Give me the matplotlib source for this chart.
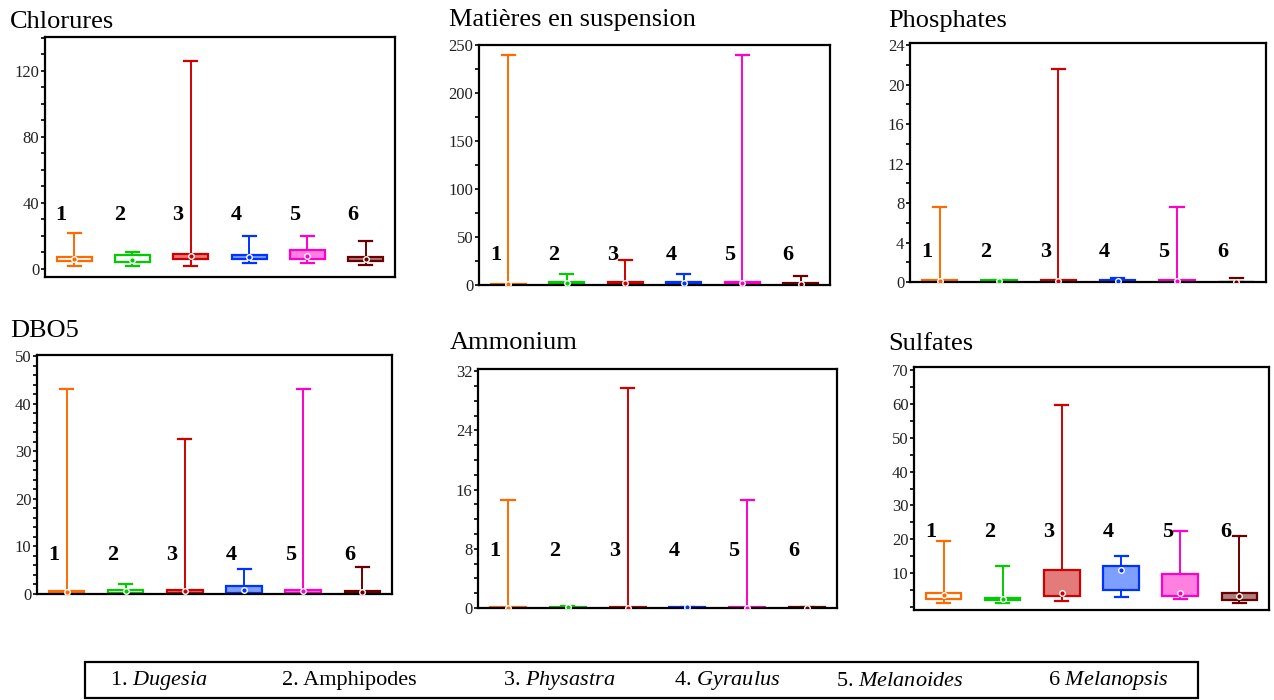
import numpy as np
import matplotlib.pyplot as plt
from matplotlib.patches import Rectangle
from matplotlib.ticker import MultipleLocator, FixedLocator
import matplotlib.transforms as mtransforms

plt.rcParams['font.family'] = ['Liberation Serif', 'DejaVu Serif']
plt.rcParams['mathtext.fontset'] = 'custom'
plt.rcParams['mathtext.rm'] = 'Liberation Serif'
plt.rcParams['mathtext.it'] = 'Liberation Serif:italic'

# ---------------- données ----------------
groups = ['1', '2', '3', '4', '5', '6']
colors = ['#FF6A00', '#00CC00', '#D00000', '#0033FF', '#FF00CC', '#6B0000']
fills = ['white', 'white', '#E37B7B', '#7F9FFF', '#FF80E0', '#B07F7F']
legend_items = ['1. $\\mathit{Dugesia}$', '2. Amphipodes', '3. $\\mathit{Physastra}$',
                '4. $\\mathit{Gyraulus}$', '5. $\\mathit{Melanoides}$', '6 $\\mathit{Melanopsis}$']

# Chlorures
chl_lo = [1.4, 1.4, 1.4, 3.5, 3.5, 2.4]
chl_q1 = [4.9, 3.9, 6.1, 5.9, 6.1, 4.9]
chl_med = [5.9, 5.5, 7.5, 7.0, 7.5, 6.0]
chl_q3 = [6.9, 8.1, 9.0, 8.1, 11.4, 6.9]
chl_hi = [21.6, 10.4, 126.0, 20.0, 20.0, 17.0]

# Matières en suspension
mes_lo = [0.0, 0.0, 0.0, 0.0, 0.0, 0.0]
mes_q1 = [0.0, 0.7, 1.0, 1.0, 1.0, 0.0]
mes_med = [0.5, 2.0, 2.0, 2.0, 2.0, 1.0]
mes_q3 = [1.0, 3.5, 3.5, 3.5, 3.5, 2.0]
mes_hi = [239.0, 11.5, 25.5, 11.5, 239.0, 9.4]

# Phosphates
pho_lo = [0.0, 0.0, 0.0, 0.0, 0.0, 0.0]
pho_q1 = [0.0, 0.0, 0.0, 0.0, 0.0, 0.0]
pho_med = [0.1, 0.1, 0.1, 0.1, 0.1, 0.05]
pho_q3 = [0.25, 0.2, 0.2, 0.2, 0.2, 0.05]
pho_hi = [7.6, 0.2, 21.6, 0.45, 7.6, 0.45]

# DBO5
dbo_lo = [0.3, 0.3, 0.3, 0.3, 0.3, 0.3]
dbo_q1 = [0.3, 0.3, 0.3, 0.3, 0.3, 0.3]
dbo_med = [0.5, 0.6, 0.6, 0.8, 0.6, 0.5]
dbo_q3 = [0.7, 0.9, 0.9, 1.7, 0.9, 0.7]
dbo_hi = [43.1, 2.2, 32.6, 5.3, 43.1, 5.7]

# Ammonium
amm_lo = [0.0, 0.0, 0.0, 0.0, 0.0, 0.0]
amm_q1 = [0.0, 0.0, 0.0, 0.0, 0.0, 0.0]
amm_med = [0.05, 0.1, 0.05, 0.1, 0.05, 0.05]
amm_q3 = [0.1, 0.2, 0.1, 0.2, 0.1, 0.15]
amm_hi = [14.6, 0.3, 29.7, 0.2, 14.6, 0.2]

# Sulfates
sul_lo = [1.3, 1.3, 1.9, 2.9, 2.5, 1.3]
sul_q1 = [2.5, 2.0, 3.4, 5.1, 3.4, 2.0]
sul_med = [3.6, 2.4, 4.1, 11.0, 4.3, 3.4]
sul_q3 = [4.3, 2.7, 11.0, 12.2, 9.8, 4.3]
sul_hi = [19.4, 12.3, 59.5, 15.0, 22.6, 20.9]

panels = [
    # titre, données, position axes, ylim, majeurs, mineur, position titre, y des numéros
    ('Chlorures', (chl_lo, chl_q1, chl_med, chl_q3, chl_hi),
     [0.0353, 0.6043, 0.2747, 0.343], (-5, 140.5), [0, 40, 80, 120], 10, (10, 22), 0.26),
    ('Matières en suspension', (mes_lo, mes_q1, mes_med, mes_q3, mes_hi),
     [0.376, 0.5929, 0.2755, 0.343], (0, 250), [0, 50, 100, 150, 200, 250], 25, (449, 20), 0.125),
    ('Phosphates', (pho_lo, pho_q1, pho_med, pho_q3, pho_hi),
     [0.7143, 0.5971, 0.2794, 0.3414], (0, 24.2), [0, 4, 8, 12, 16, 20, 24], 2, (888, 21), 0.125),
    ('DBO5', (dbo_lo, dbo_q1, dbo_med, dbo_q3, dbo_hi),
     [0.029, 0.1514, 0.2787, 0.3414], (0, 50.2), [0, 10, 20, 30, 40, 50], 2, (10, 331), 0.163),
    ('Ammonium', (amm_lo, amm_q1, amm_med, amm_q3, amm_hi),
     [0.3752, 0.1314, 0.2818, 0.3414], (0, 32.3), [0, 8, 16, 24, 32], 2, (450, 343), 0.24),
    ('Sulfates', (sul_lo, sul_q1, sul_med, sul_q3, sul_hi),
     [0.7174, 0.1286, 0.2786, 0.347], (-0.8, 70.8), [10, 20, 30, 40, 50, 60, 70], 5, (888, 344), 0.32),
]

W, H = 1274, 700
fig = plt.figure(figsize=(W / 100, H / 100), dpi=100)

for title, (lo, q1, med, q3, hi), rect, ylim, majors, minor, tpos, num_y in panels:
    ax = fig.add_axes(rect)
    positions = np.arange(1, len(groups) + 1)
    for i, p in enumerate(positions):
        stats = [dict(whislo=lo[i], q1=q1[i], med=med[i], q3=q3[i], whishi=hi[i], fliers=[])]
        c = colors[i]
        ax.bxp(stats, positions=[p], widths=0.6, capwidths=0.22, patch_artist=True,
               showfliers=False,
               boxprops=dict(facecolor=fills[i], edgecolor=c, linewidth=1.6),
               whiskerprops=dict(color=c, linewidth=1.4),
               capprops=dict(color=c, linewidth=1.6),
               medianprops=dict(color='none', linewidth=0))
        ax.plot(p, med[i], 'o', ms=4, mfc=c, mec='white', mew=1.0, zorder=5)

    trans = mtransforms.blended_transform_factory(ax.transData, ax.transAxes)
    for i, p in enumerate(positions):
        ax.text(p - 0.22, num_y, groups[i], transform=trans, fontsize=16,
                fontweight='bold', ha='center', va='center')

    ax.set_xlim(0.5, 6.5)
    ax.set_ylim(*ylim)
    ax.set_xticks([])
    ax.yaxis.set_major_locator(FixedLocator(majors))
    ax.yaxis.set_minor_locator(MultipleLocator(minor))
    ax.tick_params(axis='y', which='both', length=3, width=1.2, direction='out',
                   labelsize=12, labelcolor='#222222', pad=1)
    for s in ax.spines.values():
        s.set_linewidth(1.6)

    fig.text(tpos[0] / W, 1 - tpos[1] / H, title, fontsize=19, ha='left', va='center')

# légende en bas
fig.patches.append(Rectangle((85 / W, 2 / H), (1198 - 85) / W, (H - 662 - 2) / H,
                             transform=fig.transFigure, fill=False, edgecolor='black',
                             linewidth=1.6))
legend_x = [110, 282, 503, 674, 836, 1048]
for lx, lab in zip(legend_x, legend_items):
    fig.text(lx / W, 1 - 681 / H, lab, fontsize=16, ha='left', va='center')

fig.savefig('out.png', dpi=100)
